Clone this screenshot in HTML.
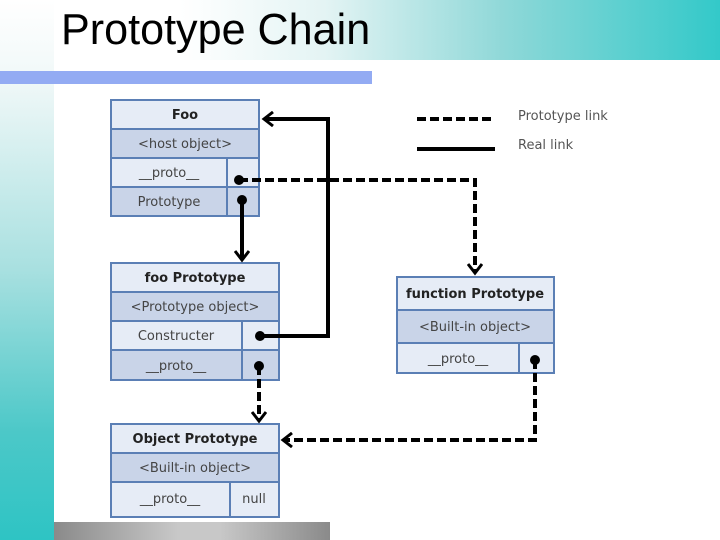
<!DOCTYPE html>
<html><head><style>
body{margin:0;width:720px;height:540px;position:relative;overflow:hidden;background:#fff;font-family:"Liberation Sans",sans-serif}
.abs{position:absolute}
</style></head><body>
<div class="abs" style="left:0;top:0;width:720px;height:60px;background:linear-gradient(90deg,#fff 0%,#fff 25%,#e4f4f4 45%,#8fd8d8 70%,#33c9c9 100%)"></div>
<div class="abs" style="left:0;top:0;width:54px;height:540px;background:linear-gradient(180deg,#fff 0%,#f0f8f8 15%,#a8e0e0 50%,#4cc8c8 80%,#2ec4c4 100%)"></div>
<div class="abs" style="left:61px;top:5px;font-size:44px;color:#000;line-height:50px;transform:scaleX(0.98);transform-origin:left">Prototype Chain</div>
<div class="abs" style="left:0;top:71px;width:372px;height:13px;background:#93abf3"></div>
<div class="abs" style="left:54px;top:522px;width:276px;height:18px;background:linear-gradient(90deg,#8a8a8a,#c8c8c8 45%,#c8c8c8 60%,#8a8a8a)"></div>
<svg class="abs" style="left:0;top:0" width="720" height="540" font-family="DejaVu Sans, sans-serif" font-size="13">
<defs><marker id="a" markerWidth="14" markerHeight="16" refX="11" refY="8" orient="auto" markerUnits="userSpaceOnUse"><path d="M2,1 L11,8 L2,15" fill="none" stroke="#000" stroke-width="3"/></marker></defs>
<g stroke="#5b7fb5" stroke-width="2">
<rect x="111" y="100" width="148" height="29" fill="#e6ecf6"/>
<rect x="111" y="129" width="148" height="29" fill="#c9d4e8"/>
<rect x="111" y="158" width="148" height="29" fill="#e6ecf6"/>
<rect x="111" y="187" width="148" height="29" fill="#c9d4e8"/>
<line x1="227" y1="158" x2="227" y2="216"/>
<rect x="111" y="263" width="168" height="29" fill="#e6ecf6"/>
<rect x="111" y="292" width="168" height="29" fill="#c9d4e8"/>
<rect x="111" y="321" width="168" height="29" fill="#e6ecf6"/>
<rect x="111" y="350" width="168" height="30" fill="#c9d4e8"/>
<line x1="242" y1="321" x2="242" y2="380"/>
<rect x="111" y="424" width="168" height="29" fill="#e6ecf6"/>
<rect x="111" y="453" width="168" height="29" fill="#c9d4e8"/>
<rect x="111" y="482" width="168" height="35" fill="#e6ecf6"/>
<line x1="230" y1="482" x2="230" y2="517"/>
<rect x="397" y="277" width="157" height="33" fill="#e6ecf6"/>
<rect x="397" y="310" width="157" height="33" fill="#c9d4e8"/>
<rect x="397" y="343" width="157" height="30" fill="#e6ecf6"/>
<line x1="519" y1="343" x2="519" y2="373"/>
</g>
<g fill="#222" text-anchor="middle">
<text x="185" y="119" font-weight="bold">Foo</text>
<text x="185" y="148" fill="#444">&lt;host object&gt;</text>
<text x="169" y="177" fill="#444">__proto__</text>
<text x="169" y="206" fill="#444">Prototype</text>
<text x="195" y="282" font-weight="bold">foo Prototype</text>
<text x="195" y="311" fill="#444">&lt;Prototype object&gt;</text>
<text x="176" y="340" fill="#444">Constructer</text>
<text x="176" y="370" fill="#444">__proto__</text>
<text x="195" y="443" font-weight="bold">Object Prototype</text>
<text x="195" y="472" fill="#444">&lt;Built-in object&gt;</text>
<text x="170" y="503" fill="#444">__proto__</text>
<text x="254" y="503" fill="#444">null</text>
<text x="475" y="298" font-weight="bold">function Prototype</text>
<text x="475" y="331" fill="#444">&lt;Built-in object&gt;</text>
<text x="458" y="363" fill="#444">__proto__</text>
</g>
<g fill="#555"><text x="518" y="120">Prototype link</text><text x="518" y="149">Real link</text></g>
<g stroke="#000" stroke-width="4" fill="none">
<line x1="417" y1="119" x2="493" y2="119" stroke-dasharray="9,4"/>
<line x1="417" y1="149" x2="495" y2="149"/>
<polyline points="239,180 475,180 475,273" stroke-dasharray="9,4" marker-end="url(#a)"/>
<polyline points="242,200 242,260" marker-end="url(#a)"/>
<polyline points="260,336 328,336 328,119 264,119" marker-end="url(#a)"/>
<polyline points="259,366 259,421" stroke-dasharray="9,4" marker-end="url(#a)"/>
<polyline points="535,360 535,440 283,440" stroke-dasharray="9,4" marker-end="url(#a)"/>
</g>
<g fill="#000"><circle cx="239" cy="180" r="5"/><circle cx="242" cy="200" r="5"/><circle cx="260" cy="336" r="5"/><circle cx="259" cy="366" r="5"/><circle cx="535" cy="360" r="5"/></g>
</svg>
</body></html>
